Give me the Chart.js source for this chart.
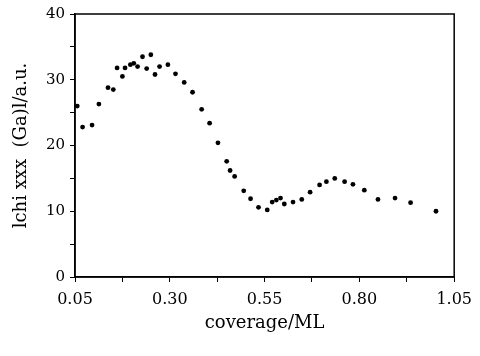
<!DOCTYPE html>
<html>
<head>
<meta charset="utf-8">
<script src="https://cdn.jsdelivr.net/npm/chart.js@4"></script>
<style>
html,body{margin:0;padding:0;background:#fff;}
#wrap{width:480px;height:356px;}
</style>
</head>
<body>
<div id="wrap"><canvas id="c" width="480" height="356"></canvas></div>
<script>
const coverage = [0.056,0.070,0.095,0.113,0.137,0.151,0.161,0.175,0.182,0.196,0.205,0.215,0.228,0.239,0.250,0.261,0.273,0.295,0.315,0.338,0.360,0.384,0.405,0.427,0.450,0.459,0.471,0.495,0.513,0.534,0.557,0.570,0.581,0.592,0.602,0.625,0.648,0.670,0.695,0.713,0.735,0.761,0.783,0.813,0.849,0.894,0.935,1.002];
const intensity = [26.0,22.8,23.1,26.3,28.8,28.5,31.8,30.5,31.8,32.3,32.5,32.0,33.5,31.7,33.8,30.8,32.0,32.3,30.9,29.6,28.1,25.5,23.4,20.4,17.6,16.2,15.3,13.1,11.9,10.6,10.2,11.4,11.7,12.0,11.1,11.4,11.8,12.9,14.0,14.5,15.0,14.5,14.1,13.2,11.8,12.0,11.3,10.0];
const xTickLabels = ["0.05","0.30","0.55","0.80","1.05"];
const yTickLabels = ["0","10","20","30","40"];

const points = coverage.map((x,i)=>({x:x,y:intensity[i]}));

const frame = {
  id:'frame',
  afterDraw(chart){
    const {ctx, chartArea:a} = chart;
    ctx.save();
    ctx.strokeStyle='#000';
    ctx.lineWidth=1.5;
    ctx.strokeRect(a.left, a.top, a.right-a.left, a.bottom-a.top);
    ctx.restore();
  }
};

function xLabel(v){
  const k = (v-0.05)/0.25;
  if (Math.abs(k-Math.round(k))<1e-6) return xTickLabels[Math.round(k)];
  return '';
}
function yLabel(v){
  const k = v/10;
  if (Math.abs(k-Math.round(k))<1e-6) return yTickLabels[Math.round(k)];
  return '';
}

new Chart(document.getElementById('c'),{
  type:'scatter',
  data:{datasets:[{data:points,backgroundColor:'#000',borderColor:'#000',pointRadius:2.4,pointHoverRadius:2.4,borderWidth:0}]},
  options:{
    responsive:false,
    animation:false,
    events:[],
    layout:{padding:{left:0,right:23,top:9,bottom:0}},
    plugins:{legend:{display:false},tooltip:{enabled:false}},
    scales:{
      x:{
        type:'linear',min:0.05,max:1.05,
        afterFit(s){s.height=79;},
        border:{display:true,color:'#000',width:1.5},
        grid:{display:true,drawOnChartArea:false,drawTicks:true,tickLength:5,color:'#000',lineWidth:1},
        ticks:{stepSize:0.125,autoSkip:false,maxRotation:0,color:'#000',padding:8,
          font:{family:'DejaVu Serif',size:16},callback:xLabel},
        title:{display:true,text:'coverage/ML',color:'#000',font:{family:'DejaVu Serif',size:18},padding:{top:22,bottom:22}}
      },
      y:{
        type:'linear',min:0,max:40,
        afterFit(s){s.width=75;},
        border:{display:true,color:'#000',width:1.5},
        grid:{display:true,drawOnChartArea:false,drawTicks:true,tickLength:5,color:'#000',lineWidth:1},
        ticks:{stepSize:5,autoSkip:false,color:'#000',padding:5,
          font:{family:'DejaVu Serif',size:15},callback:yLabel},
        title:{display:true,text:'lchi xxx  (Ga)l/a.u.',color:'#000',font:{family:'DejaVu Serif',size:18},padding:{top:11,bottom:11}}
      }
    }
  },
  plugins:[frame]
});
</script>
</body>
</html>
